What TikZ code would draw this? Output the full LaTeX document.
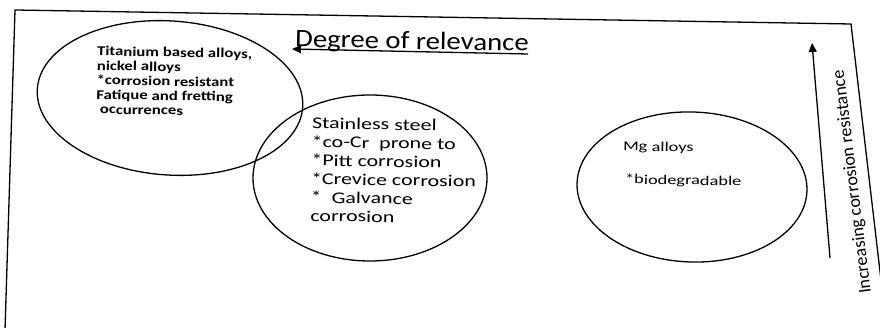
\documentclass[tikz,border=0pt]{standalone}
\usepackage{fontspec}
\setmainfont{Carlito}
\newfontfamily\fTi[FakeStretch=1.24]{Carlito}
\newfontfamily\fSS[FakeStretch=1.33]{Carlito}
\newfontfamily\fMg[FakeStretch=1.36]{Carlito}
\newfontfamily\fDeg[FakeStretch=1.15]{Carlito}
\usetikzlibrary{arrows.meta}
\tikzset{
  ln/.style={line width=1.3pt, black},
  blob/.style={ln},
  body/.style={anchor=north west, inner sep=0pt, align=left},
  arr/.style={ln, -{Triangle[length=9pt,width=8pt]}},
}
\begin{document}
\begin{tikzpicture}[x=1pt,y=-1pt]
\useasboundingbox (0,0) rectangle (880,328);
% frame
\coordinate (fbl) at (5,330);
\coordinate (ftl) at (15,10);
\coordinate (ftr) at (851,24);
\coordinate (fbr) at (881,280);
\draw[ln] (fbl) -- (ftl) -- (ftr) -- (fbr);
% ellipses
\draw[blob, rotate around={-4:(170,98)}] (170,98) ellipse [x radius=133, y radius=77];
\draw[blob] (370,178) ellipse [x radius=117, y radius=83];
\draw[blob, rotate around={-2:(692,187)}] (692,187) ellipse [x radius=115, y radius=75];
% texts
\node[body, font=\fTi\fontsize{13.5}{14.5}\selectfont\bfseries, rotate=-1] (ti) at (97,46)
  {Titanium based alloys,\\nickel alloys\\*corrosion resistant\\Fatique and fretting\\\ occurrences};
\node[body, font=\fSS\fontsize{16.5}{18.5}\selectfont, rotate=-1] (ss) at (312,117)
  {Stainless steel\\*co-Cr\ \ prone to\\*Pitt corrosion\\*Crevice corrosion\\*\ \ Galvance\\corrosion};
\node[body, font=\fMg\fontsize{13.5}{15}\selectfont, rotate=-1] (mg1) at (623,141) {Mg alloys};
\node[body, font=\fMg\fontsize{13.5}{15}\selectfont, rotate=-1] (mg2) at (625,174) {*biodegradable};
% degree of relevance
\node[anchor=base west, inner sep=0pt, font=\fDeg\fontsize{25}{28}\selectfont, rotate=-1] (deg) at (295,47) {Degree of relevance};
\coordinate (dA) at (528,54);
\coordinate (dB) at (292,49);
\draw[arr] (dA) -- (dB);
% corrosion resistance
\coordinate (vA) at (830,258);
\coordinate (vB) at (812,43);
\draw[arr] (vA) -- (vB);
\node[anchor=base west, inner sep=0pt, font=\fontsize{18}{20}\selectfont, rotate=97] (inc) at (871,293) {Increasing corrosion resistance};
\end{tikzpicture}
\end{document}
